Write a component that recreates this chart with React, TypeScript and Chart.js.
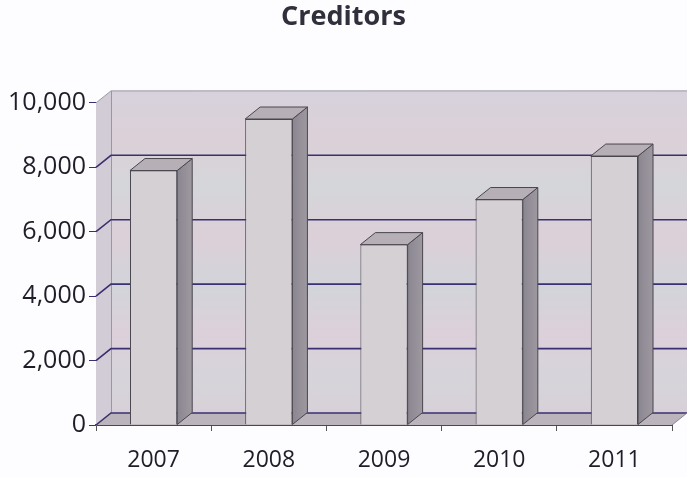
import React, { useEffect, useRef } from "react";
import { Chart, registerables } from "chart.js";

Chart.register(...registerables);

const categories = ["2007", "2008", "2009", "2010", "2011"];
const creditors = [7900, 9500, 5600, 7000, 8350];
const yTicks = [0, 2000, 4000, 6000, 8000, 10000];
const titleText = "Creditors";

const DX = 15;
const DY = -12;

const wall3d = {
  id: "wall3d",
  beforeDatasetsDraw(chart: any) {
    const { ctx, chartArea } = chart;
    const y = chart.scales.y;
    const { left, right, top, bottom } = chartArea;
    ctx.save();
    // back wall
    const g = ctx.createLinearGradient(0, top + DY, 0, bottom + DY);
    g.addColorStop(0, "#d6d2dc");
    g.addColorStop(0.15, "#dcd0d8");
    g.addColorStop(0.3, "#d4d6da");
    g.addColorStop(0.45, "#dccfd8");
    g.addColorStop(0.6, "#d2d4da");
    g.addColorStop(0.75, "#dcd0da");
    g.addColorStop(0.9, "#d6d4da");
    g.addColorStop(1, "#d8d0d8");
    ctx.fillStyle = g;
    ctx.fillRect(left + DX, top + DY, chart.width - left - DX, bottom - top);
    // side wall
    ctx.fillStyle = "#d2ccd6";
    ctx.beginPath();
    ctx.moveTo(left, top);
    ctx.lineTo(left + DX, top + DY);
    ctx.lineTo(left + DX, bottom + DY);
    ctx.lineTo(left, bottom);
    ctx.closePath();
    ctx.fill();
    ctx.strokeStyle = "#9a96a6";
    ctx.lineWidth = 1;
    ctx.beginPath();
    ctx.moveTo(left + DX + 0.5, top + DY);
    ctx.lineTo(left + DX + 0.5, bottom + DY);
    ctx.moveTo(left, top);
    ctx.lineTo(left + DX, top + DY);
    ctx.lineTo(chart.width, top + DY);
    ctx.stroke();
    // floor
    ctx.fillStyle = "#bcb4bc";
    ctx.beginPath();
    ctx.moveTo(left, bottom);
    ctx.lineTo(right, bottom);
    ctx.lineTo(right + DX, bottom + DY);
    ctx.lineTo(left + DX, bottom + DY);
    ctx.closePath();
    ctx.fill();
    // gridlines
    ctx.strokeStyle = "#3a2f70";
    ctx.lineWidth = 1.6;
    yTicks.forEach((v) => {
      if (v === yTicks[yTicks.length - 1]) return;
      const py = y.getPixelForValue(v);
      ctx.beginPath();
      ctx.moveTo(left, py);
      ctx.lineTo(left + DX, py + DY);
      ctx.lineTo(chart.width, py + DY);
      ctx.stroke();
    });
    // floor right edge
    ctx.strokeStyle = "#8a8494";
    ctx.lineWidth = 1;
    ctx.beginPath();
    ctx.moveTo(right, bottom);
    ctx.lineTo(right + DX, bottom + DY);
    ctx.stroke();
    ctx.restore();
  },
};

const bars3d = {
  id: "bars3d",
  afterDatasetsDraw(chart: any) {
    const { ctx } = chart;
    const meta = chart.getDatasetMeta(0);
    ctx.save();
    meta.data.forEach((bar: any) => {
      const { x, y, base, width } = bar.getProps(["x", "y", "base", "width"], true);
      const l = x - width / 2;
      const r = x + width / 2;
      // side face
      const sg = ctx.createLinearGradient(r, 0, r + DX, 0);
      sg.addColorStop(0, "#8a8690");
      sg.addColorStop(1, "#9e98a0");
      ctx.fillStyle = sg;
      ctx.beginPath();
      ctx.moveTo(r, y);
      ctx.lineTo(r + DX, y + DY);
      ctx.lineTo(r + DX, base + DY);
      ctx.lineTo(r, base);
      ctx.closePath();
      ctx.fill();
      ctx.strokeStyle = "#4a4650";
      ctx.lineWidth = 1;
      ctx.stroke();
      // top face
      ctx.fillStyle = "#b6b0b6";
      ctx.beginPath();
      ctx.moveTo(l, y);
      ctx.lineTo(l + DX, y + DY);
      ctx.lineTo(r + DX, y + DY);
      ctx.lineTo(r, y);
      ctx.closePath();
      ctx.fill();
      ctx.stroke();
    });
    ctx.restore();
  },
};

export default function App() {
  const ref = useRef<HTMLCanvasElement | null>(null);
  useEffect(() => {
    if (!ref.current) return;
    const chart = new Chart(ref.current, {
      type: "bar",
      data: {
        labels: categories,
        datasets: [
          {
            label: "Creditors",
            data: creditors,
            backgroundColor: (c: any) => {
              const ch = c.chart;
              const el = ch.getDatasetMeta(0).data[c.dataIndex];
              if (!el || !isFinite(el.x)) return "#d4d0d4";
              const w = el.width || 47;
              const g = ch.ctx.createLinearGradient(el.x - w / 2, 0, el.x + w / 2, 0);
              g.addColorStop(0, "#d8d2d8");
              g.addColorStop(0.5, "#dcd4da");
              g.addColorStop(1, "#c8c2ca");
              return g;
            },
            borderColor: "#4a4650",
            borderWidth: 1,
            barPercentage: 0.41,
            categoryPercentage: 1,
          },
        ],
      },
      options: {
        animation: false,
        responsive: true,
        maintainAspectRatio: false,
        layout: { padding: { left: 0, right: 0, top: 0, bottom: 0 } },
        plugins: {
          legend: { display: false },
          tooltip: { enabled: false },
          title: {
            display: true,
            text: titleText,
            color: "#30303c",
            font: { family: "Open Sans", size: 27, weight: "bold" },
            padding: { top: 1, bottom: 69.5 },
          },
        },
        scales: {
          x: {
            grid: { display: true, drawOnChartArea: false, drawTicks: true, tickLength: 6, color: "#555", offset: true },
            border: { display: true, color: "#4a3c8a", width: 2 },
            ticks: { color: "#1e1e28", font: { family: "Open Sans", size: 23 }, padding: 16 },
            afterFit: (s: any) => { s.height = 52; },
          },
          y: {
            min: 0,
            max: 10000,
            afterBuildTicks: (s: any) => { s.ticks = yTicks.map((v) => ({ value: v })); },
            grid: { display: true, drawOnChartArea: false, drawTicks: true, tickLength: 7, color: "#3a2f70" },
            border: { display: true, color: "#7a7890", width: 1 },
            ticks: {
              color: "#1e1e28",
              font: { family: "Open Sans", size: 25 },
              padding: 3,
              callback: (v: any) => Number(v).toLocaleString("en-US"),
            },
            afterFit: (s: any) => { s.width = 96; },
          },
          depth: {
            position: "right",
            min: 0,
            max: 10000,
            grid: { display: false },
            border: { display: false },
            ticks: { display: false },
            afterFit: (s: any) => { s.width = 15; },
          },
        },
      },
      plugins: [wall3d, bars3d],
    });
    return () => chart.destroy();
  }, []);
  return (
    <div style={{ position: "absolute", left: 0, top: 0, width: 687, height: 477, background: "#fdfcff" }}>
      <canvas ref={ref} />
    </div>
  );
}
